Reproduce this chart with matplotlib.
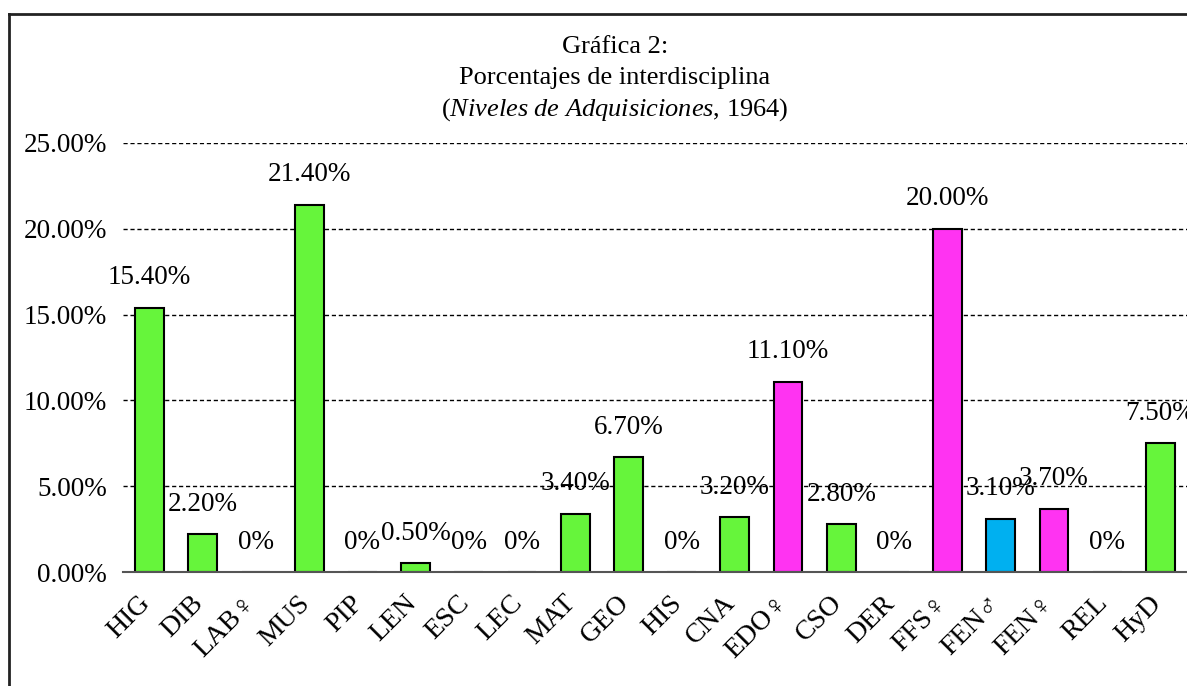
import matplotlib
matplotlib.use("Agg")
import matplotlib.pyplot as plt
import matplotlib.transforms as mtransforms
from matplotlib.lines import Line2D

categories = ["HIG", "DIB", "LAB♀", "MUS", "PIP", "LEN", "ESC", "LEC", "MAT", "GEO",
              "HIS", "CNA", "EDO♀", "CSO", "DER", "FFS♀", "FEN♂", "FEN♀", "REL", "HyD"]
values = [15.4, 2.2, 0, 21.4, 0, 0.5, 0, 0, 3.4, 6.7,
          0, 3.2, 11.1, 2.8, 0, 20.0, 3.1, 3.7, 0, 7.5]
value_labels = ["15.40%", "2.20%", "0%", "21.40%", "0%", "0.50%", "0%", "0%", "3.40%", "6.70%",
                "0%", "3.20%", "11.10%", "2.80%", "0%", "20.00%", "3.10%", "3.70%", "0%", "7.50%"]
groups = ["g", "g", "g", "g", "g", "g", "g", "g", "g", "g",
          "g", "g", "m", "g", "g", "m", "b", "m", "g", "g"]
group_colors = {"g": "#66F53B", "m": "#FF33F2", "b": "#00B0F0"}
yticks = [0, 5, 10, 15, 20, 25]
ytick_labels = ["0.00%", "5.00%", "10.00%", "15.00%", "20.00%", "25.00%"]

FAM = ["Liberation Serif", "DejaVu Serif"]
plt.rcParams["font.family"] = FAM
plt.rcParams["mathtext.fontset"] = "custom"
plt.rcParams["mathtext.rm"] = "Liberation Serif"
plt.rcParams["mathtext.it"] = "Liberation Serif:italic"

W, H = 1187, 686
fig = plt.figure(figsize=(W / 100, H / 100), dpi=100)
ax = fig.add_axes([123 / W, 1 - 572 / H, 1 - 123 / W, (572 - 143) / H])

x = list(range(len(categories)))
colors = [group_colors[g] for g in groups]
ax.bar(x, values, width=0.54, color=colors, edgecolor="black", linewidth=1.5, zorder=3)

ax.set_xlim(-0.5, len(categories) - 0.5)
ax.set_ylim(0, 25)
ax.set_yticks(yticks)
ax.set_yticklabels(ytick_labels, fontsize=19.5)
ax.yaxis.grid(True, linestyle=(0, (3, 2)), color="black", linewidth=1.0, zorder=1)
ax.set_axisbelow(True)
ax.tick_params(axis="y", length=0, pad=11.5)
ax.tick_params(axis="x", length=0, pad=12)
ax.set_xticks(x)
ax.set_xticklabels(categories, rotation=45, ha="right", rotation_mode="anchor", fontsize=20)
shift = mtransforms.ScaledTranslation(-12 / 100, -2 / 100, fig.dpi_scale_trans)
for t in ax.get_xticklabels():
    t.set_transform(t.get_transform() + shift)

for s in ["left", "right", "top"]:
    ax.spines[s].set_visible(False)
ax.spines["bottom"].set_color("#555555")
ax.spines["bottom"].set_linewidth(1.5)
ax.spines["bottom"].set_zorder(4)

for xi, v, lab in zip(x, values, value_labels):
    ax.annotate(lab, (xi, v), xytext=(0, 21.5), textcoords="offset points",
                ha="center", va="center", fontsize=19.5, zorder=5)

cx = 615 / W
fig.text(cx, 1 - 47 / H, "Gráfica 2:", ha="center", va="center", fontsize=19)
fig.text(cx, 1 - 78 / H, "Porcentajes de interdisciplina", ha="center", va="center", fontsize=19)
fig.text(cx, 1 - 110 / H, r"($\it{Niveles\ de\ Adquisiciones}$, 1964)", ha="center", va="center", fontsize=19)

fig.add_artist(Line2D([9 / W, 9 / W], [0, 1 - 14 / H], color="#222222", linewidth=2, transform=fig.transFigure))
fig.add_artist(Line2D([9 / W, 1], [1 - 14 / H, 1 - 14 / H], color="#222222", linewidth=2, transform=fig.transFigure))

fig.savefig("out.png", dpi=100)
